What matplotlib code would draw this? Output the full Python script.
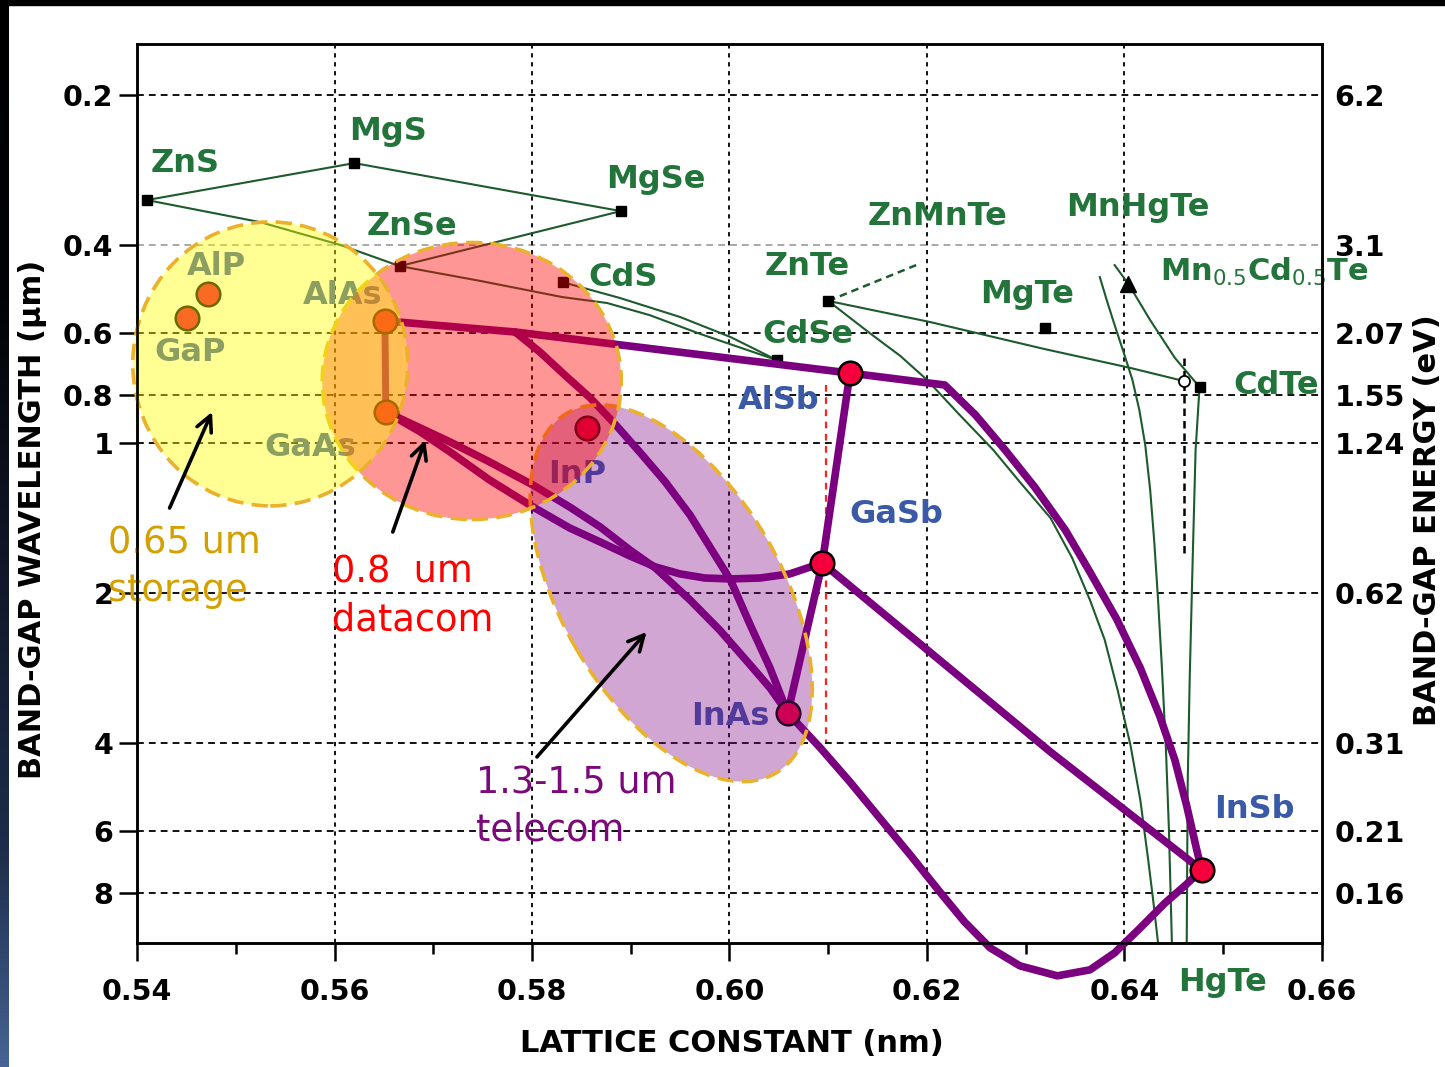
import matplotlib
matplotlib.use("Agg")
import matplotlib.pyplot as plt
import matplotlib.transforms as mtransforms
from matplotlib.patches import Ellipse, Rectangle
import numpy as np

plt.rcParams['font.family'] = ['DejaVu Sans']
plt.rcParams['mathtext.fontset'] = 'dejavusans'

# axis ticks: band-gap wavelength (um) on the left, energy (eV) on the right
wl_ticks = [0.2, 0.4, 0.6, 0.8, 1, 2, 4, 6, 8]
wl_labels = ['0.2', '0.4', '0.6', '0.8', '1', '2', '4', '6', '8']
ev_labels = ['6.2', '3.1', '2.07', '1.55', '1.24', '0.62', '0.31', '0.21', '0.16']
a_ticks = [0.54, 0.56, 0.58, 0.60, 0.62, 0.64, 0.66]
a_minor = [0.55, 0.57, 0.59, 0.61, 0.63, 0.65]

# II-VI binaries (black squares): lattice constant (nm), band-gap wavelength (um)
ii_vi_names = ['ZnS', 'MgS', 'MgSe', 'ZnSe', 'CdS', 'CdSe', 'ZnTe', 'MgTe', 'CdTe']
ii_vi_a = [0.5410, 0.5620, 0.5890, 0.5666, 0.5831, 0.6048, 0.6100, 0.6319, 0.6476]
ii_vi_wl = [0.325, 0.274, 0.342, 0.441, 0.475, 0.681, 0.518, 0.587, 0.771]
ii_vi_lab_a = [0.5449, 0.5654, 0.5925, 0.5678, 0.5892, 0.6079, 0.6079, 0.6301, 0.6554]
ii_vi_lab_wl = [0.274, 0.237, 0.296, 0.368, 0.464, 0.606, 0.441, 0.502, 0.764]

# III-V binaries (red dots)
iii_v_names = ['AlP', 'GaP', 'AlAs', 'GaAs', 'InP', 'AlSb', 'GaSb', 'InAs', 'InSb']
iii_v_a = [0.5472, 0.5451, 0.5651, 0.5652, 0.5856, 0.6122, 0.6094, 0.6059, 0.6478]
iii_v_wl = [0.502, 0.560, 0.568, 0.865, 0.932, 0.723, 1.739, 3.478, 7.18]
iii_v_lab_a = [0.5480, 0.5454, 0.5608, 0.5575, 0.5846, 0.6050, 0.6169, 0.6001, 0.6532]
iii_v_lab_wl = [0.441, 0.656, 0.506, 1.022, 1.158, 0.819, 1.387, 3.542, 5.444]

# III-V ternary curves
alas_alsb = ([0.5651, 0.5783, 0.6122], [0.568, 0.598, 0.723])
alsb_insb = ([0.6122, 0.6218, 0.6249, 0.6279, 0.6309, 0.6340, 0.6365, 0.6392, 0.6416,
              0.6436, 0.6451, 0.6463, 0.6472, 0.6478],
             [0.723, 0.764, 0.877, 1.031, 1.224, 1.493, 1.813, 2.252, 2.825,
              3.542, 4.322, 5.344, 6.40, 7.18])
alsb_gasb = ([0.6122, 0.6094], [0.723, 1.739])
gasb_inas = ([0.6094, 0.6059], [1.739, 3.478])
gasb_insb = ([0.6094, 0.6325, 0.6478], [1.739, 4.164, 7.18])
alas_gaas = ([0.5651, 0.5652], [0.568, 0.865])
alas_inas = ([0.5783, 0.5808, 0.5833, 0.5859, 0.5884, 0.5909, 0.5935, 0.5960, 0.5982,
              0.6001, 0.6021, 0.6041, 0.6059],
             [0.598, 0.656, 0.729, 0.811, 0.915, 1.041, 1.196, 1.393, 1.637,
              1.881, 2.316, 2.825, 3.478])
gaas_inas = ([0.5652, 0.5687, 0.5717, 0.5757, 0.5801, 0.5838, 0.5869, 0.5899, 0.5925,
              0.5960, 0.5990, 0.6021, 0.6041, 0.6059],
             [0.865, 0.932, 0.994, 1.090, 1.213, 1.342, 1.472, 1.637, 1.780,
              2.063, 2.370, 2.786, 3.098, 3.478])
gaas_gasb = ([0.5652, 0.5687, 0.5717, 0.5757, 0.5801, 0.5838, 0.5869, 0.5899, 0.5925,
              0.5950, 0.5975, 0.6001, 0.6031, 0.6061, 0.6094],
             [0.865, 0.949, 1.041, 1.185, 1.342, 1.479, 1.578, 1.683, 1.771,
              1.829, 1.864, 1.872, 1.864, 1.829, 1.739])
inas_insb = ([0.6059, 0.6092, 0.6122, 0.6152, 0.6183, 0.6213, 0.6238, 0.6264, 0.6294,
              0.6332, 0.6365, 0.6390, 0.6416, 0.6441, 0.6462, 0.6478],
             [3.478, 4.088, 4.784, 5.649, 6.702, 7.953, 9.134, 10.30, 11.19,
              11.72, 11.40, 10.54, 9.39, 8.37, 7.70, 7.18])
iii_v_curves = [alas_alsb, alsb_insb, alsb_gasb, gasb_inas, gasb_insb,
                alas_inas, gaas_inas, gaas_gasb, inas_insb]

# II-VI ternary curves
zns_mgs = ([0.5410, 0.5620], [0.325, 0.274])
mgs_mgse = ([0.5620, 0.5890], [0.274, 0.342])
mgse_znse = ([0.5890, 0.5666], [0.342, 0.441])
zns_znse = ([0.5410, 0.5525, 0.5606, 0.5666], [0.325, 0.360, 0.400, 0.441])
znse_cdse = ([0.5666, 0.5747, 0.5831, 0.5876, 0.5919, 0.5970, 0.6048],
             [0.441, 0.472, 0.509, 0.523, 0.553, 0.603, 0.681])
cds_cdse = ([0.5831, 0.5889, 0.5950, 0.6001, 0.6048], [0.475, 0.511, 0.558, 0.612, 0.681])
znte_cdte = ([0.6100, 0.6203, 0.6319, 0.6406, 0.6460], [0.518, 0.571, 0.647, 0.706, 0.750])
znte_hgte = ([0.6100, 0.6122, 0.6142, 0.6173, 0.6200, 0.6233, 0.6267, 0.6294, 0.6325,
              0.6347, 0.6365, 0.6380, 0.6393, 0.6406, 0.6416, 0.6424, 0.6429, 0.6434],
             [0.518, 0.560, 0.601, 0.668, 0.746, 0.877, 1.031, 1.196, 1.412,
              1.699, 2.063, 2.482, 3.126, 4.032, 5.198, 6.86, 8.25, 10.07])
mnte_hgte = ([0.6375, 0.6382, 0.6390, 0.6399, 0.6408, 0.6415, 0.6421, 0.6426, 0.6430,
              0.6434, 0.6438, 0.6442, 0.6445, 0.6448],
             [0.464, 0.516, 0.579, 0.656, 0.746, 0.857, 1.008, 1.241, 1.563,
              2.063, 2.851, 4.126, 5.97, 10.07])
mncdte_cdte = ([0.6390, 0.6404, 0.6426, 0.6451, 0.6476], [0.439, 0.479, 0.566, 0.674, 0.771])
cdte_hgte = ([0.6476, 0.6472, 0.6469, 0.6466, 0.6464, 0.6463], [0.771, 1.031, 1.723, 2.986, 4.805, 10.07])
ii_vi_curves = [zns_mgs, mgs_mgse, mgse_znse, zns_znse, znse_cdse, cds_cdse,
                znte_cdte, znte_hgte, mnte_hgte, mncdte_cdte, cdte_hgte]
znte_znmnte = ([0.6100, 0.6189], [0.518, 0.439])
cdte_dashed = ([0.6460, 0.6460], [0.674, 1.69])
alsb_dashed = ([0.6098, 0.6098], [0.764, 3.98])
mncdte_pt = (0.6404, 0.479)
cdte_open_pt = (0.6460, 0.750)

GREEN_TXT = '#23743a'
GREEN_LN = '#1d5a2c'
BLUE_TXT = '#3a5aa8'
PURPLE = '#7a007f'
RED = '#f5003d'

fig = plt.figure(figsize=(14.45, 10.67), dpi=100)
ax = fig.add_axes([137 / 1445, 124 / 1067, 1185 / 1445, 899 / 1067])
ax.set_xlim(0.54, 0.66)
ax.set_yscale('log')
ax.set_ylim(10.07, 0.158)

# dashed grid
for w in wl_ticks:
    ax.axhline(w, color='#a8a8a8' if w == 0.4 else '#111111', lw=1.4, dashes=(3.5, 2.6), zorder=1)
for a in a_ticks[1:-1]:
    ax.axvline(a, color='#111111', lw=1.4, dashes=(2.2, 2.4), zorder=1)

# II-VI lines and points
for xs, ys in ii_vi_curves:
    ax.plot(xs, ys, color=GREEN_LN, lw=1.5, solid_joinstyle='round', zorder=2)
ax.plot(*znte_znmnte, color=GREEN_LN, lw=1.8, dashes=(3, 2), zorder=2)
ax.plot(*cdte_dashed, color='black', lw=1.8, dashes=(3, 2), zorder=2)
ax.plot(*alsb_dashed, color='#ff2020', lw=1.6, dashes=(3, 2.5), zorder=2)
ax.plot(ii_vi_a, ii_vi_wl, 's', color='black', ms=7, zorder=2.5)
ax.plot(*mncdte_pt, '^', color='black', ms=12, zorder=2.5)
ax.plot(*cdte_open_pt, 'o', mfc='white', mec='black', mew=1.3, ms=8, zorder=2.5)

# III-V lines and points
for xs, ys in iii_v_curves:
    ax.plot(xs, ys, color=PURPLE, lw=5.5, solid_capstyle='round', solid_joinstyle='round',
            zorder=3, clip_on=False)
ax.plot(*alas_gaas, color=PURPLE, lw=5, zorder=3)
ax.plot(iii_v_a, iii_v_wl, 'o', color=RED, mec='black', mew=1.8, ms=17, zorder=4)

# labels
for name, x, y in zip(ii_vi_names, ii_vi_lab_a, ii_vi_lab_wl):
    ax.text(x, y, name, color=GREEN_TXT, fontsize=23, fontweight='bold',
            ha='center', va='center', zorder=5)
for name, x, y in [('ZnMnTe', 0.6211, 0.351), ('MnHgTe', 0.6413, 0.336), ('HgTe', 0.6499, 12.1)]:
    ax.text(x, y, name, color=GREEN_TXT, fontsize=23, fontweight='bold',
            ha='center', va='center', zorder=5)
ax.text(0.6436, 0.453, r'Mn$_{0.5}$Cd$_{0.5}$Te', color=GREEN_TXT, fontsize=22,
        fontweight='bold', ha='left', va='center', zorder=5)
for name, x, y in zip(iii_v_names, iii_v_lab_a, iii_v_lab_wl):
    ax.text(x, y, name, color=BLUE_TXT, fontsize=23, fontweight='bold',
            ha='center', va='center', zorder=5)


# translucent wavelength regions, sized in inches around a data point
def region(a, wl, w, h, angle, fc, z):
    tr = fig.dpi_scale_trans + mtransforms.ScaledTranslation(a, wl, ax.transData)
    ax.add_patch(Ellipse((0, 0), w, h, angle=angle, transform=tr, facecolor=fc,
                         edgecolor='#ebb02c', lw=2.6, linestyle=(0, (4.5, 2.3)),
                         zorder=z, clip_on=False))


region(0.5941, 2.0, 4.16, 2.20, -60, (0.5, 0.0, 0.5, 0.35), 5.9)
region(0.5739, 0.750, 2.99, 2.77, 0, (1.0, 0.0, 0.0, 0.41), 6.0)
region(0.5535, 0.693, 2.75, 2.84, 0, (1.0, 1.0, 0.0, 0.42), 6.1)

# application notes with arrows
notes = [('0.65 um\nstorage', 0.5371, 1.459, '#d4a000', (0.5433, 1.349), (0.5476, 0.865)),
         ('0.8  um\ndatacom', 0.5597, 1.668, '#ff0000', (0.5659, 1.507), (0.5692, 0.985)),
         ('1.3-1.5 um\ntelecom', 0.5743, 4.42, '#7a0a7a', (0.5805, 4.262), (0.5916, 2.392))]
for txt, x, y, col, tail, head in notes:
    ax.text(x, y, txt, color=col, fontsize=26.5, ha='left', va='top',
            linespacing=1.35, zorder=8)
    ax.annotate('', xy=head, xytext=tail, zorder=8,
                arrowprops=dict(arrowstyle='->', color='black', lw=2.6,
                                mutation_scale=28, shrinkA=0, shrinkB=0))

# axes and ticks
ax.set_xticks(a_ticks)
ax.set_xticklabels([f'{v:.2f}' for v in a_ticks])
ax.set_xticks(a_minor, minor=True)
ax.set_yticks(wl_ticks)
ax.set_yticklabels(wl_labels)
ax.yaxis.set_minor_locator(plt.NullLocator())
ax.tick_params(axis='x', which='major', direction='out', length=13, width=1.8, pad=12, labelsize=20.5)
ax.tick_params(axis='x', which='minor', direction='out', length=8, width=1.8)
ax.tick_params(axis='y', direction='out', length=13, width=1.8, pad=4, labelsize=20.5)
for lbl in ax.get_xticklabels() + ax.get_yticklabels():
    lbl.set_fontweight('bold')
for sp in ax.spines.values():
    sp.set_linewidth(1.8)

ax2 = ax.twinx()
ax2.set_yscale('log')
ax2.set_ylim(ax.get_ylim())
ax2.set_yticks(wl_ticks)
ax2.set_yticklabels(ev_labels)
ax2.yaxis.set_minor_locator(plt.NullLocator())
ax2.tick_params(axis='y', length=0, pad=9, labelsize=20.5)
for lbl in ax2.get_yticklabels():
    lbl.set_fontweight('bold')
for sp in ax2.spines.values():
    sp.set_linewidth(1.8)

fig.text(732 / 1445, 1 - 1044 / 1067, 'LATTICE CONSTANT (nm)', fontsize=22,
         fontweight='bold', ha='center', va='center')
fig.text(33 / 1445, 1 - 519 / 1067, 'BAND-GAP WAVELENGTH (µm)', fontsize=22,
         fontweight='bold', ha='center', va='center', rotation=90)
fig.text(1428 / 1445, 1 - 520 / 1067, 'BAND-GAP ENERGY (eV)', fontsize=22,
         fontweight='bold', ha='center', va='center', rotation=90)

# dark slide border: black top edge, dark-to-blue strip on the left
fig.patches.append(Rectangle((0, 1 - 5 / 1067), 1, 5 / 1067, transform=fig.transFigure,
                             color='black', zorder=10))
strip = fig.add_axes([0, 0, 9 / 1445, 1])
t = np.linspace(0, 1, 256)
stops = [0, 0.28, 0.8, 1.0]
cols = [(0, 0, 0), (2, 3, 8), (30, 45, 75), (70, 100, 148)]
grad = np.zeros((256, 1, 3))
for c in range(3):
    grad[:, 0, c] = np.interp(t, stops, [col[c] for col in cols]) / 255
strip.imshow(grad, aspect='auto', extent=(0, 1, 1, 0))
strip.axis('off')

fig.savefig('out.png', dpi=100)
